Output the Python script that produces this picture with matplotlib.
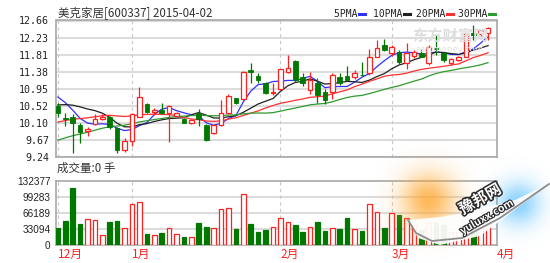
import matplotlib
matplotlib.use('Agg')
import matplotlib.pyplot as plt
import matplotlib.patheffects as pe
import numpy as np

plt.rcParams['font.family'] = ['Noto Sans CJK SC', 'DejaVu Sans']

# daily candles, 2014-12 .. 2015-04-02
opens = [10.52, 10.22, 10.26, 10.05, 9.89, 10.07, 10.21, 10.24, 9.97, 9.42,
         9.64, 10.26, 10.58, 10.37, 10.42, 10.34, 10.28, 10.19, 10.11, 10.34,
         10.05, 9.84, 10.05, 10.36, 10.71, 10.71, 11.42, 11.27, 11.11, 10.84,
         10.94, 11.38, 11.65, 11.24, 10.92, 11.09, 10.88, 10.88, 11.24, 11.27,
         11.24, 11.31, 11.34, 11.76, 12.05, 11.84, 11.88, 11.59, 11.78, 11.84,
         11.59, 11.98, 11.84, 11.59, 11.67, 11.76, 12.34, 12.32, 12.34]
highs = [10.59, 10.36, 10.32, 10.09, 10.01, 10.32, 10.32, 10.27, 10.01, 9.72,
         10.36, 11.00, 10.60, 10.47, 10.60, 10.56, 10.38, 10.22, 10.20, 10.44,
         10.08, 10.08, 10.67, 10.82, 10.73, 11.41, 11.61, 11.34, 11.13, 11.10,
         11.46, 11.80, 11.67, 11.36, 11.38, 11.22, 10.95, 11.36, 11.36, 11.52,
         11.42, 11.63, 11.94, 12.17, 12.19, 12.05, 11.92, 12.09, 11.92, 11.96,
         12.05, 12.30, 11.88, 11.72, 11.77, 12.36, 12.55, 12.44, 12.51]
lows = [10.26, 10.02, 9.34, 9.59, 9.78, 10.05, 10.17, 9.95, 9.36, 9.38,
        9.52, 10.25, 10.34, 10.30, 10.32, 9.63, 10.24, 10.09, 10.08, 10.02,
        9.65, 9.82, 10.02, 10.33, 10.57, 10.67, 11.09, 11.10, 10.82, 10.80,
        10.92, 11.34, 11.12, 11.02, 10.83, 10.60, 10.58, 10.71, 11.05, 11.14,
        11.20, 11.28, 11.30, 11.74, 11.89, 11.78, 11.58, 11.46, 11.72, 11.74,
        11.55, 11.80, 11.62, 11.55, 11.65, 11.74, 12.17, 12.28, 12.17]
closes = [10.34, 10.20, 10.11, 9.88, 9.95, 10.19, 10.26, 10.01, 9.42, 9.66,
          10.32, 10.75, 10.38, 10.42, 10.35, 10.52, 10.36, 10.11, 10.17, 10.21,
          9.67, 10.05, 10.34, 10.77, 10.59, 11.38, 11.38, 11.17, 10.86, 10.88,
          11.44, 11.46, 11.17, 11.09, 11.17, 10.80, 10.67, 11.30, 11.11, 11.17,
          11.34, 11.29, 11.76, 11.96, 11.92, 12.00, 11.63, 11.84, 11.88, 11.76,
          12.00, 11.94, 11.67, 11.69, 11.74, 12.34, 12.30, 12.41, 12.46]
volumes = [33900, 49000, 116700, 43400, 52500, 50500, 19400, 47600, 49000, 35200,
           84200, 87700, 22100, 19400, 24200, 35200, 21500, 15900, 15900, 45500,
           36000, 35200, 74500, 76500, 33100, 104900, 43400, 26000, 29800, 36600,
           54600, 46300, 41000, 27300, 36600, 46500, 28000, 34500, 33000, 55000,
           32500, 29000, 84200, 68300, 35200, 66200, 61400, 55800, 40800, 31000,
           44300, 44000, 40000, 27000, 27000, 30000, 40000, 48000, 51000]
# closes before the window (feed the moving averages at the left edge)
prior_closes = [8.45, 8.52, 8.60, 8.58, 8.70, 8.78, 8.85, 8.92, 9.00, 9.25,
                9.40, 9.52, 9.48, 9.60, 9.66, 9.72, 9.80, 9.78, 9.90, 10.04,
                10.12, 10.25, 10.30, 10.48, 10.60, 10.90, 11.05, 10.92, 10.53]

price_ticks = ['12.66', '12.23', '11.81', '11.38', '10.95', '10.52', '10.10', '9.67', '9.24']
vol_ticks = ['132377', '99283', '66189', '33094', '0']
month_labels = ['12月', '1月', '2月', '3月', '4月']
month_starts = [0, 10, 30, 45, 59.2]

RED = '#ff2020'
GREEN = '#007800'
GRID = '#dcdcdc'
FRAME = '#a8a8a8'

n = len(closes)
x = np.arange(n)
O = np.array(opens); H = np.array(highs); L = np.array(lows); C = np.array(closes)
up = C >= O

fig = plt.figure(figsize=(5.5, 2.63), dpi=100)
W, Hh = 550, 263
def box(l, t, r, b):
    return [l / W, 1 - b / Hh, (r - l) / W, (b - t) / Hh]

ax = fig.add_axes(box(56, 20.5, 497, 157.3))
axv = fig.add_axes(box(56, 180.7, 497, 244.7))

xlim = (-0.25, 59.2)

# ---- price panel
ymin, ymax = 9.24, 12.66
ax.set_xlim(*xlim)
ax.set_ylim(ymin, ymax)
pt = np.linspace(ymax, ymin, len(price_ticks))
for v in pt:
    ax.axhline(v, color=GRID, lw=1.5, zorder=0)
for m in month_starts:
    ax.axvline(m, color='#c8c8c8', lw=0.8, ls=(0, (3, 3)), zorder=0)

allc = np.array(prior_closes + closes)
ma_specs = [(5, '#3030ff'), (10, '#202020'), (20, '#ff3030'), (30, '#2f9a2f')]
for period, col in ma_specs:
    ma = np.array([allc[len(prior_closes) + i - period + 1: len(prior_closes) + i + 1].mean()
                   for i in range(n)])
    ax.plot(x, ma, color=col, lw=0.9, zorder=2)

bw = 0.62
for i in range(n):
    lo_b, hi_b = min(O[i], C[i]), max(O[i], C[i])
    if up[i]:
        ax.vlines(i, L[i], lo_b, color=RED, lw=0.9, zorder=3)
        ax.vlines(i, hi_b, H[i], color=RED, lw=0.9, zorder=3)
        ax.bar(i, max(hi_b - lo_b, 0.012), bottom=lo_b, width=bw, facecolor='white',
               edgecolor=RED, lw=0.9, zorder=4)
    else:
        ax.vlines(i, L[i], H[i], color=GREEN, lw=0.9, zorder=3)
        ax.bar(i, max(hi_b - lo_b, 0.012), bottom=lo_b, width=bw, facecolor=GREEN,
               edgecolor=GREEN, lw=0.6, zorder=4)

ax.set_yticks(pt)
ax.set_yticklabels(price_ticks, family='DejaVu Sans Mono', fontsize=7.2, color='#222222')
ax.set_xticks([])
ax.tick_params(axis='y', length=0, pad=5)
for s in ax.spines.values():
    s.set_color(FRAME)
    s.set_linewidth(1.2)

# ---- volume panel
vmax = 132377
axv.set_xlim(*xlim)
axv.set_ylim(0, vmax)
vt = np.linspace(vmax, 0, len(vol_ticks))
for v in vt[1:-1]:
    axv.axhline(v, color=GRID, lw=1.5, zorder=0)
for m in month_starts:
    axv.axvline(m, color='#c8c8c8', lw=0.8, ls=(0, (3, 3)), zorder=0)
vcol = [RED if u else GREEN for u in up]
axv.bar(x, volumes, width=bw, facecolor=['white' if u else GREEN for u in up],
        edgecolor=vcol, lw=0.9, zorder=3)
axv.set_yticks(vt)
axv.set_yticklabels(vol_ticks, family='Liberation Sans', fontsize=7.2, color='#222222')
axv.tick_params(axis='y', length=0, pad=4)
axv.set_xticks(month_starts)
axv.set_xticklabels(month_labels, color=RED, fontsize=8.5, ha='left')
axv.tick_params(axis='x', length=0, pad=2)
for s in axv.spines.values():
    s.set_color(FRAME)
    s.set_linewidth(1.2)

# ---- texts
fig.text(58 / W, 1 - 13 / Hh, '美克家居[600337] 2015-04-02', fontsize=8.3, color='#333333',
         va='center', ha='left')
fig.text(57 / W, 1 - 168 / Hh, '成交量:0 手', fontsize=8.3, color='#333333',
         va='center', ha='left')
legend_items = [('5PMA', '#3030ff', 334), ('10PMA', '#202020', 373),
                ('20PMA', '#ff3030', 416), ('30PMA', '#2f9a2f', 458)]
for name, col, lx in legend_items:
    fig.text(lx / W, 1 - 14 / Hh, name + ' ', family='DejaVu Sans Mono', fontsize=7,
             color='#222222', va='center', ha='left')
    dash_x = lx + len(name) * 5.85 + 2
    fig.add_artist(plt.Line2D([dash_x / W, (dash_x + 6) / W], [1 - 14 / Hh] * 2,
                              color=col, lw=2.2))

# faint eastmoney watermark
fig.text(450 / W, 1 - 36 / Hh, '东方财富网', fontsize=11, color='#dedede',
         ha='center', va='center', weight='bold', zorder=1)
fig.text(450 / W, 1 - 49 / Hh, 'eastmoney.com', fontsize=6.5, color='#e2e2e2',
         ha='center', va='center', zorder=1)

# page-curl watermark, bottom right
ov = fig.add_axes([0, 0, 1, 1], zorder=10)
ov.set_xlim(0, W)
ov.set_ylim(Hh, 0)
ov.axis('off')
yy, xx = np.mgrid[0:Hh, 0:W]
blobs = [(428, 200, 19, (1.0, 0.66, 0.2), 0.8),
         (518, 203, 15, (0.35, 0.75, 1.0), 0.7)]
wsum = np.zeros((Hh, W)) + 1e-9
rgb = np.zeros((Hh, W, 3))
keep = np.ones((Hh, W))
for cx, cy, s, col, a in blobs:
    g = np.exp(-((xx - cx) ** 2 + (yy - cy) ** 2) / (2 * s * s)) * a
    rgb += g[..., None] * np.array(col)
    wsum += g
    keep *= 1 - g
img = np.dstack([rgb / wsum[..., None], 1 - keep])
ov.imshow(img, extent=(0, W, Hh, 0), interpolation='bilinear', zorder=1)
curl = plt.Polygon([(408, 220), (418, 238), (440, 245), (480, 236), (549, 184),
                    (515, 200), (470, 212), (440, 217)],
                   closed=True, facecolor='white', edgecolor='none', alpha=0.93, zorder=2)
ov.add_patch(curl)
ov.plot([408, 416, 432, 462, 500, 549], [220, 233, 241, 238, 218, 184],
        color='#8c8c8c', lw=1.3, zorder=3)
fig.text(480 / W, 1 - 199 / Hh, '豫邦网', fontsize=11, weight='bold', color='white',
         rotation=30, ha='center', va='center', zorder=11,
         path_effects=[pe.withStroke(linewidth=2.2, foreground='#2a2a2a')])
fig.text(487 / W, 1 - 217 / Hh, 'yuluxx.com', fontsize=7.5, weight='bold', color='white',
         rotation=30, ha='center', va='center', zorder=11,
         path_effects=[pe.withStroke(linewidth=1.6, foreground='#2a2a2a')])

fig.savefig('out.png', dpi=100)
